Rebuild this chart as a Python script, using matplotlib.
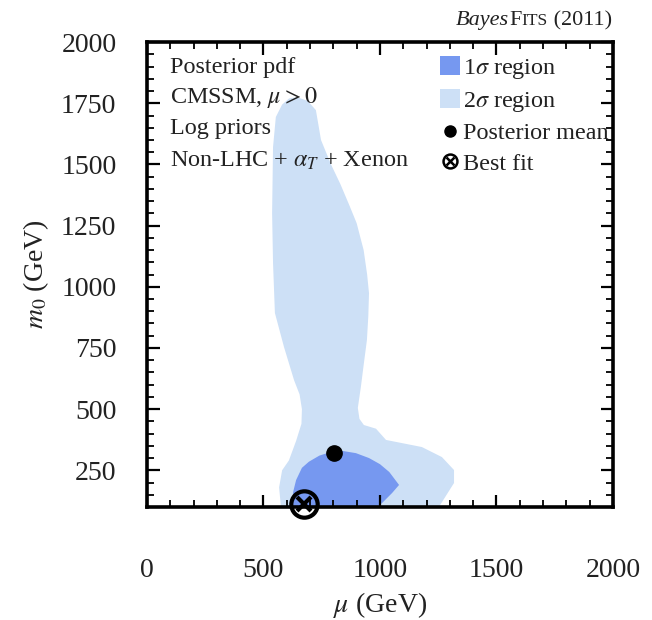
import matplotlib
matplotlib.use("Agg")
import matplotlib.pyplot as plt
from matplotlib.patches import Patch
from matplotlib.lines import Line2D
from matplotlib.legend_handler import HandlerTuple
from matplotlib.ticker import MultipleLocator

plt.rcParams['font.family'] = ['Liberation Serif', 'DejaVu Serif']
plt.rcParams['mathtext.fontset'] = 'stix'

# 2 sigma credible region outline (mu, m0) in GeV
mu_2sig = [644, 690, 725, 747, 790, 830, 870, 900, 930, 945, 953, 950, 944, 930,
           918, 905, 912, 931, 983, 1026, 1180, 1266, 1318, 1318, 1253,
           575, 567, 580, 609, 640, 663, 665, 655, 631, 588, 549, 541, 537,
           541, 553, 580, 610]
m0_2sig = [1775, 1760, 1722, 1600, 1500, 1420, 1330, 1260, 1150, 1050, 974, 880, 782, 680,
           590, 505, 460, 435, 420, 374, 345, 304, 251, 198, 100,
           100, 180, 250, 290, 370, 440, 500, 560, 619, 754, 893, 1097, 1301,
           1571, 1694, 1745, 1770]

# 1 sigma credible region outline
mu_1sig = [627, 627, 640, 665, 695, 740, 790, 840, 897, 953, 1000, 1040, 1082, 1052, 1009, 987]
m0_1sig = [100, 160, 210, 260, 285, 310, 325, 329, 320, 300, 275, 243, 190, 157, 116, 100]

mean_mu, mean_m0 = 803, 321
best_mu, best_m0 = 674, 112

dark = '#7698f0'
light = '#cde0f6'
ink = '#222222'

fig = plt.figure(figsize=(6.52, 6.2), dpi=100)
ax = fig.add_axes([0.2255, 0.1823, 0.7145, 0.7497])

ax.fill(mu_2sig, m0_2sig, color=light, lw=0)
ax.fill(mu_1sig, m0_1sig, color=dark, lw=0)
ax.plot(mean_mu, mean_m0, 'o', color='black', ms=11, zorder=5)
ax.plot(best_mu, best_m0, 'o', mfc='none', mec='black', mew=3, ms=19, clip_on=False, zorder=6)
ax.plot(best_mu, best_m0, 'x', color='black', mew=3, ms=10, clip_on=False, zorder=6)

ax.set_xlim(0, 2000)
ax.set_ylim(100, 2000)
ax.xaxis.set_major_locator(MultipleLocator(500))
ax.xaxis.set_minor_locator(MultipleLocator(100))
ax.yaxis.set_major_locator(MultipleLocator(250))
ax.yaxis.set_minor_locator(MultipleLocator(50))
ax.tick_params(which='both', direction='in', top=True, right=True, labelsize=20, colors='black')
ax.tick_params(which='both', labelcolor=ink)
ax.tick_params(which='major', length=9, width=1.6)
ax.tick_params(which='minor', length=5, width=1.3)
ax.tick_params(axis='x', pad=37)
ax.tick_params(axis='y', pad=22)
for s in ax.spines.values():
    s.set_linewidth(2.6)

ax.set_xlabel(r'$\mu$ (GeV)', fontsize=20, labelpad=5, color=ink)
ax.set_ylabel(r'$m_0$ (GeV)', fontsize=20, labelpad=7, color=ink)

lines = ['Posterior pdf', r'CMSSM, $\mu > 0$', 'Log priors', r'Non-LHC + $\alpha_T$ + Xenon']
ys = [0.946, 0.880, 0.815, 0.744]
for t, y in zip(lines, ys):
    ax.text(0.049, y, t, transform=ax.transAxes, fontsize=17.4, va='center', ha='left', color=ink)

handles = [Patch(color=dark, lw=0), Patch(color=light, lw=0),
           Line2D([], [], marker='o', color='black', ls='none', ms=8),
           (Line2D([], [], marker='o', mfc='none', mec='black', mew=1.8, ls='none', ms=10),
            Line2D([], [], marker='x', color='black', mew=1.8, ls='none', ms=5.5))]
labels = [r'1$\sigma$ region', r'2$\sigma$ region', 'Posterior mean', 'Best fit']
leg = ax.legend(handles, labels, loc='upper left', bbox_to_anchor=(0.609, 0.99),
                frameon=False, fontsize=17.4, handlelength=0.8, handleheight=0.8,
                handletextpad=0.12, labelspacing=0.33, borderaxespad=0,
                handler_map={tuple: HandlerTuple(ndivide=1, pad=0)})
for t in leg.get_texts():
    t.set_color(ink)

# title: italic "Bayes" + small-caps "Fits" + "(2011)"
fig.canvas.draw()
r = fig.canvas.get_renderer()
parts = [('Bayes', 16, 'italic'), ('F', 16, 'normal'), ('ITS', 12.5, 'normal'), (' (2011)', 16, 'normal')]
base_y = 1 - 25 / 620
txts = []
for s, size, style in parts:
    t = fig.text(0, base_y, s, fontsize=size, style=style, va='baseline', ha='left', color=ink)
    txts.append(t)
widths = [t.get_window_extent(r).width for t in txts]
x = 612 - sum(widths)
for t, w in zip(txts, widths):
    t.set_x(x / 652)
    x += w

fig.savefig('out.png', dpi=100)
